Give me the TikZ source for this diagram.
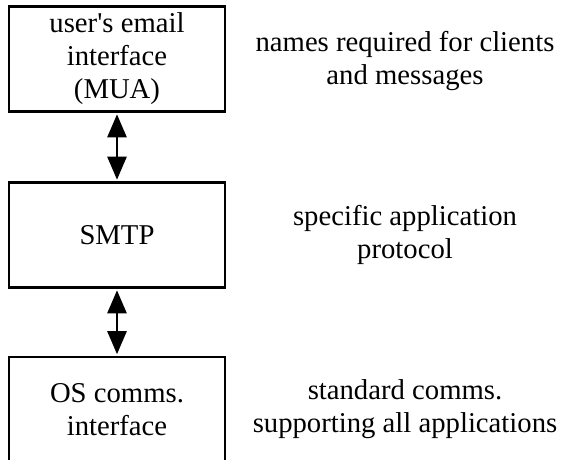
\documentclass[tikz,border=0pt]{standalone}
\usepackage{fontspec}
\setmainfont{Liberation Serif}
\usetikzlibrary{arrows.meta}
\begin{document}
\begin{tikzpicture}[x=1pt,y=-1pt,
  layerbox/.style={draw, line width=2.6pt, minimum width=216pt, minimum height=105pt, inner sep=0pt, align=center, font=\fontsize{28.7pt}{33pt}\selectfont},
  note/.style={align=center, font=\fontsize{28.7pt}{33pt}\selectfont},
  link/.style={line width=2.6pt, {Triangle[width=19pt,length=23pt]}-{Triangle[width=19pt,length=23pt]}, shorten <=1.5pt, shorten >=1.5pt}]
\useasboundingbox (0,0) rectangle (563,460);
\clip (0,0) rectangle (563,460);
\node[layerbox] (mua) at (117,59) {user\textquotesingle s email\\interface\\(MUA)};
\node[layerbox] (smtp) at (117,235) {SMTP};
\node[layerbox] (os) at (117,409.5) {OS comms.\\interface};
\node[note] (n1) at (405,60.5) {names required for clients\\and messages};
\node[note] (n2) at (405,235) {specific application\\protocol};
\node[note] (n3) at (405,409.5) {standard comms.\\supporting all applications};
\draw[link] (mua.south) -- (smtp.north);
\draw[link] (smtp.south) -- (os.north);
\end{tikzpicture}
\end{document}
